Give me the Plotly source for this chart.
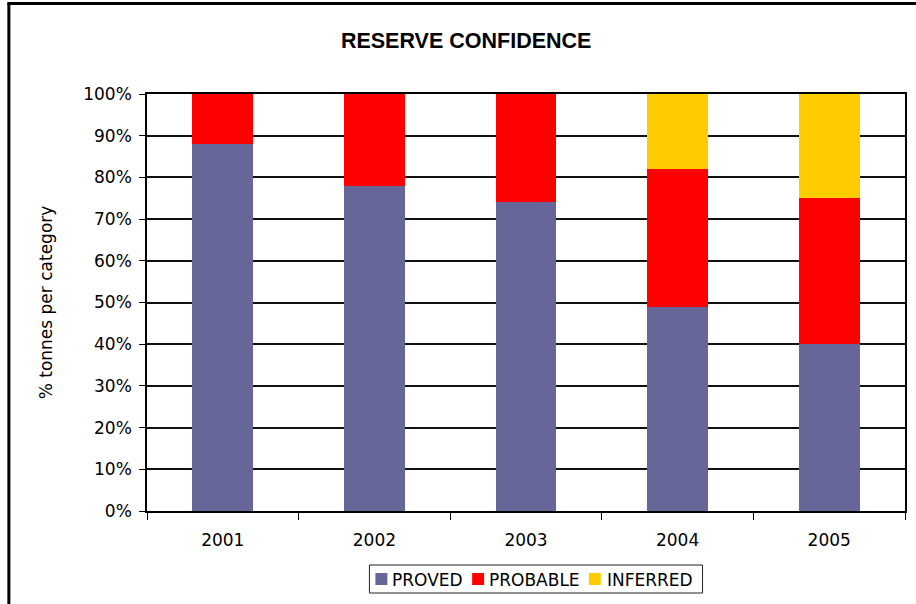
import plotly.graph_objects as go

years = ["2001", "2002", "2003", "2004", "2005"]
proved = [88, 78, 74, 49, 40]
probable = [12, 22, 26, 33, 35]
inferred = [0, 0, 0, 18, 25]

series = [
    ("PROVED", proved, "#666699"),
    ("PROBABLE", probable, "#FF0000"),
    ("INFERRED", inferred, "#FFCC00"),
]

W, H = 916, 604
L, R, T, B = 147, 9, 94, 93
pw, ph = W - L - R, H - T - B

def px_x(x):
    return (x - L) / pw

def px_y(y):
    return (H - B - y) / ph

fig = go.Figure()
for name, vals, col in series:
    fig.add_trace(go.Bar(
        x=years, y=vals, name=name,
        marker=dict(color=col, line=dict(width=0)),
        width=0.4,
        showlegend=False,
    ))

tick_font = dict(family="DejaVu Sans", size=17, color="#000000")

# Boxed legend below the plot: colour swatches plus labels
legend_box = dict(type="rect", xref="paper", yref="paper",
                  x0=px_x(370), x1=px_x(704), y0=px_y(565), y1=px_y(593),
                  line=dict(color="#222222", width=1), fillcolor="white")
swatch_x = [376, 473, 590]
label_x = [391, 488, 606]
shapes = [legend_box]
annotations = []
for (name, _, col), sx, lx in zip(series, swatch_x, label_x):
    shapes.append(dict(type="rect", xref="paper", yref="paper",
                       x0=px_x(sx), x1=px_x(sx + 12),
                       y0=px_y(573), y1=px_y(585),
                       line=dict(width=0), fillcolor=col))
    annotations.append(dict(text=name, xref="paper", yref="paper",
                            x=px_x(lx), y=px_y(579.5),
                            xanchor="left", yanchor="middle", showarrow=False,
                            font=dict(family="DejaVu Sans", size=17, color="#000000")))

# Outer frame lines at the left and top
shapes += [
    dict(type="line", xref="paper", yref="paper",
         x0=px_x(8.5), x1=px_x(8.5), y0=px_y(3), y1=px_y(H + 5),
         line=dict(color="#000000", width=3)),
    dict(type="line", xref="paper", yref="paper",
         x0=px_x(7), x1=px_x(W + 5), y0=px_y(3.5), y1=px_y(3.5),
         line=dict(color="#000000", width=3)),
]

fig.update_layout(
    width=W, height=H,
    margin=dict(l=L, r=R, t=T, b=B),
    barmode="stack",
    showlegend=False,
    paper_bgcolor="white",
    plot_bgcolor="white",
    title=dict(
        text="<b>RESERVE CONFIDENCE</b>",
        font=dict(family="Liberation Sans", size=21.5, color="#000000"),
        x=px_x(467), xref="paper", xanchor="center",
        y=1 - 40 / H, yref="container", yanchor="middle",
    ),
    xaxis=dict(
        type="category",
        tickson="boundaries",
        ticks="outside", ticklen=7, tickcolor="#000000", tickwidth=1,
        showline=True, linecolor="#000000", linewidth=1.5, mirror=True,
        showgrid=False,
        tickfont=tick_font,
        ticklabelstandoff=13,
    ),
    yaxis=dict(
        range=[0, 100],
        dtick=10,
        ticksuffix="%",
        ticks="outside", ticklen=6, tickcolor="#000000", tickwidth=1,
        showline=True, linecolor="#000000", linewidth=1.5, mirror=True,
        showgrid=True, gridcolor="#111111", gridwidth=1.5,
        zeroline=False,
        tickfont=tick_font,
        ticklabelstandoff=4,
        title=dict(text="% tonnes per category",
                   font=dict(family="DejaVu Sans", size=17, color="#000000"),
                   standoff=26),
    ),
    shapes=shapes,
    annotations=annotations,
)

fig.write_html("out.html")
